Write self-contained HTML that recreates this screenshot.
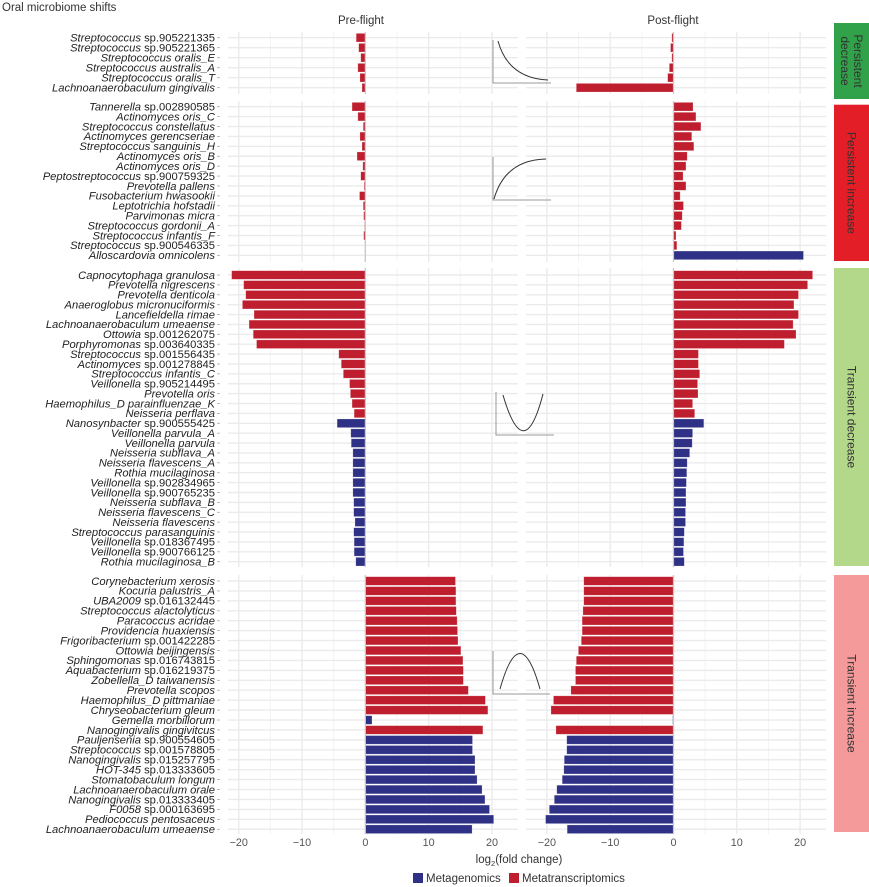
<!DOCTYPE html>
<html><head><meta charset="utf-8">
<style>
html,body{margin:0;padding:0;background:#fff;}
svg{display:block;font-family:"Liberation Sans",sans-serif;}
</style></head>
<body>
<svg id="s" width="869" height="887" xmlns="http://www.w3.org/2000/svg"></svg>
<script>
const S=document.getElementById('s');
let h='';
const R='#be1e2d',B='#2e3185';
const zx=v=>220+v/2.408;
const P0=zx(350),Q0=zx(1092);
const groups=[
 {top:32,bot:94,y0:37.7,p:10,labels:["Streptococcus sp.905221335","Streptococcus sp.905221365","Streptococcus oralis_E","Streptococcus australis_A","Streptococcus oralis_T","Lachnoanaerobaculum gingivalis"],
  pre:[328,334,339,332,337,342],post:[1088,1085,1088,1082,1078,858],col:"RRRRRR"},
 {top:101,bot:262,y0:106.7,p:9.91,labels:["Tannerella sp.002890585","Actinomyces oris_C","Streptococcus constellatus","Actinomyces gerencseriae","Streptococcus sanguinis_H","Actinomyces oris_B","Actinomyces oris_D","Peptostreptococcus sp.900759325","Prevotella pallens","Fusobacterium hwasookii","Leptotrichia hofstadii","Parvimonas micra","Streptococcus gordonii_A","Streptococcus infantis_F","Streptococcus sp.900546335","Alloscardovia omnicolens"],
  pre:[318,332,345,337,342,330,344,339,347,336,345,346,348,346,349,349],post:[1139,1146,1158,1136,1141,1125,1122,1115,1122,1108,1116,1113,1111,1098,1100,1405],col:"RRRRRRRRRRRRRRRB"},
 {top:268,bot:567,y0:275,p:9.886,labels:["Capnocytophaga granulosa","Prevotella nigrescens","Prevotella denticola","Anaeroglobus micronuciformis","Lancefieldella rimae","Lachnoanaerobaculum umeaense","Ottowia sp.001262075","Porphyromonas sp.003640335","Streptococcus sp.001556435","Actinomyces sp.001278845","Streptococcus infantis_C","Veillonella sp.905214495","Prevotella oris","Haemophilus_D parainfluenzae_K","Neisseria perflava","Nanosynbacter sp.900555425","Veillonella parvula_A","Veillonella parvula","Neisseria subflava_A","Neisseria flavescens_A","Rothia mucilaginosa","Veillonella sp.902834965","Veillonella sp.900765235","Neisseria subflava_B","Neisseria flavescens_C","Neisseria flavescens","Streptococcus parasanguinis","Veillonella sp.018367495","Veillonella sp.900766125","Rothia mucilaginosa_B"],
  pre:[28,57,62,54,82,70,80,88,286,292,297,312,314,318,323,282,315,316,320,320,320,320,320,322,322,325,322,323,323,327],
  post:[1427,1415,1393,1382,1393,1380,1387,1359,1152,1152,1155,1150,1151,1138,1143,1165,1138,1137,1131,1125,1124,1123,1122,1122,1121,1121,1118,1117,1116,1118],col:"RRRRRRRRRRRRRRRBBBBBBBBBBBBBBB"},
 {top:575,bot:834,y0:581,p:9.93,labels:["Corynebacterium xerosis","Kocuria palustris_A","UBA2009 sp.016132445","Streptococcus alactolyticus","Paracoccus acridae","Providencia huaxiensis","Frigoribacterium sp.001422285","Ottowia beijingensis","Sphingomonas sp.016743815","Aquabacterium sp.016219375","Zobellella_D taiwanensis","Prevotella scopos","Haemophilus_D pittmaniae","Chryseobacterium gleum","Gemella morbillorum","Nanogingivalis gingivitcus","Pauljensenia sp.900554605","Streptococcus sp.001578805","Nanogingivalis sp.015257795","HOT-345 sp.013333605","Stomatobaculum longum","Lachnoanaerobaculum orale","Nanogingivalis sp.013333405","F0058 sp.000163695","Pediococcus pentosaceus","Lachnoanaerobaculum umeaense"],
  pre:[567,568,568,569,571,572,573,580,585,586,586,598,639,645,366,633,608,608,614,614,619,631,638,649,659,607],
  post:[876,876,876,874,872,872,870,863,858,856,856,845,803,797,1090,809,835,835,829,828,824,811,805,793,784,836],col:"RRRRRRRRRRRRRRBRBBBBBBBBBB"}
];
const panels=[[228,518,P0],[526,826,Q0]];
const u=6.33;
groups.forEach(g=>{
 panels.forEach(([a,b,z])=>{
  for(let k=-4;k<=4;k++){const x=z+k*5*u; if(x>a-1&&x<b+1) h+=`<line x1="${x}" y1="${g.top}" x2="${x}" y2="${g.bot}" stroke="${k%2?'#f3f3f3':'#ebebeb'}" stroke-width="${k%2?1:1.4}"/>`;}
  g.labels.forEach((l,i)=>{const y=g.y0+i*g.p;h+=`<line x1="${a}" y1="${y}" x2="${b}" y2="${y}" stroke="#ebebeb" stroke-width="1.4"/>`;});
 });
 g.labels.forEach((l,i)=>{
  const y=g.y0+i*g.p, c=g.col[i]=='R'?R:B;
  const x1=zx(g.pre[i]);
  const a=Math.min(x1,P0),w=Math.abs(x1-P0);
  h+=`<rect x="${a}" y="${y-4.3}" width="${Math.max(w,0.3)}" height="8.6" fill="${c}" stroke="#fff" stroke-opacity=".35" stroke-width=".6"/>`;
  const x2=zx(g.post[i]);
  const a2=Math.min(x2,Q0),w2=Math.abs(x2-Q0);
  h+=`<rect x="${a2}" y="${y-4.3}" width="${Math.max(w2,0.3)}" height="8.6" fill="${c}" stroke="#fff" stroke-opacity=".35" stroke-width=".6"/>`;
  let m=l.match(/^(\S+) (sp\..*)$/);
  let t=m?`<tspan font-style="italic">${m[1]}</tspan> ${m[2]}`:`<tspan font-style="italic">${l}</tspan>`;
  h+=`<text x="215" y="${y+3.8}" text-anchor="end" font-size="11.2" fill="#222">${t}</text>`;
  h+=`<line x1="217" y1="${y}" x2="220" y2="${y}" stroke="#aaa" stroke-width=".8"/>`;
 });
 panels.forEach(([a,b,z])=>{h+=`<line x1="${z}" y1="${g.top}" x2="${z}" y2="${g.bot}" stroke="#c8c8c8" stroke-width="1.2"/>`;});
});
const ax=(x,y1,y2,x2)=>`<path d="M${x} ${y1}V${y2}H${x2}" fill="none" stroke="#999" stroke-width="1"/>`;
h+=ax(493,40,83,551)+`<path d="M498 41Q508 78 548 80" fill="none" stroke="#333" stroke-width="1"/>`;
h+=ax(493,157,200,551)+`<path d="M494 199Q505 160 546 159" fill="none" stroke="#333" stroke-width="1"/>`;
h+=ax(496,392,435,554)+`<path d="M503 395Q524 467 543 394" fill="none" stroke="#333" stroke-width="1"/>`;
h+=ax(493,651,694,550)+`<path d="M500 689Q520 618 540 689" fill="none" stroke="#333" stroke-width="1"/>`;
const strips=[[23,99,'#31a24a',['Persistent','decrease']],[104.7,261,'#e31e26',['Persistent increase']],[268,566,'#b3d88a',['Transient decrease']],[575,832,'#f49a9a',['Transient increase']]];
strips.forEach(([a,b,c,t])=>{
 h+=`<rect x="834" y="${a}" width="35" height="${b-a}" fill="${c}"/>`;
 const cy=(a+b)/2;
 t.forEach((s,i)=>{const off=(t.length==1?0:(i==0?-6.5:6.5));
  h+=`<text transform="translate(${851.5-off},${cy}) rotate(90)" text-anchor="middle" dominant-baseline="central" font-size="12" fill="#333">${s}</text>`;});
});
h+=`<text x="2" y="11" font-size="11.5" fill="#333">Oral microbiome shifts</text>`;
h+=`<text x="361" y="24" font-size="11.5" fill="#333" text-anchor="middle">Pre-flight</text>`;
h+=`<text x="673" y="24" font-size="11.5" fill="#333" text-anchor="middle">Post-flight</text>`;
panels.forEach(([a,b,z])=>{[-20,-10,0,10,20].forEach(v=>{const x=z+v*u;h+=`<text x="${x}" y="846" font-size="10.8" fill="#555" text-anchor="middle">${v<0?'−'+(-v):v}</text>`;});});
h+=`<text x="519" y="863" font-size="11.5" fill="#333" text-anchor="middle">log<tspan font-size="7.5" dy="3">2</tspan><tspan dy="-3">(fold change)</tspan></text>`;
h+=`<rect x="413" y="873" width="10" height="10" fill="${B}"/><text x="426" y="882" font-size="11.5" fill="#333">Metagenomics</text>`;
h+=`<rect x="509" y="873" width="10" height="10" fill="${R}"/><text x="522" y="882" font-size="11.5" fill="#333">Metatranscriptomics</text>`;
S.innerHTML=h;
</script>
</body></html>
